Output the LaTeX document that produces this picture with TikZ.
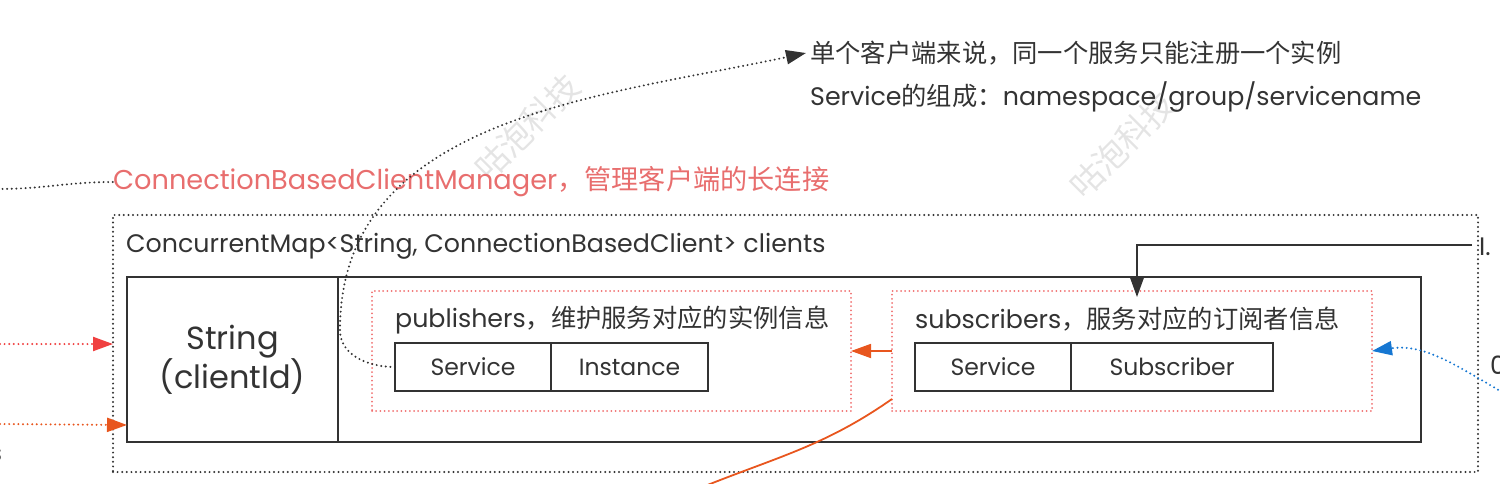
\documentclass[tikz,border=0pt]{standalone}
\usepackage{fontspec}
\setmainfont{Poppins}
\newfontfamily\cjk{Noto Sans CJK SC}
\usetikzlibrary{arrows.meta,positioning}
\definecolor{ink}{HTML}{333333}
\definecolor{mgrred}{HTML}{E86E6E}
\definecolor{boxred}{HTML}{F07070}
\definecolor{linered}{HTML}{F04040}
\definecolor{lineorange}{HTML}{E8561E}
\definecolor{lineblue}{HTML}{1677D2}
\definecolor{mark}{HTML}{E4E4E4}
\newcommand\cn[1]{{\cjk #1}}
\newcommand\fs[1]{\fontsize{#1}{#1}\selectfont}
\begin{document}
\begin{tikzpicture}[x=1pt, y=-1pt, >={Triangle[length=20pt,width=14pt]},
    cell/.style={draw=ink, line width=1.8pt, outer sep=0pt, inner sep=0pt,
        minimum height=48pt, text=ink, font=\fs{23.5}},
    frame/.style={draw=ink, line width=2pt, outer sep=0pt, inner sep=0pt},
    dotbox/.style={draw=ink, line width=2.2pt, dash pattern=on 0pt off 4.6pt,
        line cap=round, outer sep=0pt, inner sep=0pt},
    redbox/.style={draw=boxred, line width=2pt, dash pattern=on 0pt off 4.2pt,
        line cap=round, outer sep=0pt, inner sep=0pt},
    dotline/.style={line width=2.2pt, dash pattern=on 0pt off 4.6pt, line cap=round},
    lbl/.style={anchor=west, text=ink, inner sep=0pt, font=\fs{25.3}}]
\useasboundingbox (0,0) rectangle (1500,484);

% watermark
\node[text=mark, rotate=45, font=\fs{33}\cjk] (wm1) at (527,127) {咕泡科技};
\node[text=mark, rotate=45, font=\fs{33}\cjk] (wm2) at (1122,145) {咕泡科技};

% notes
\node[lbl] (note1) at (810,53) {\cn{单个客户端来说，同一个服务只能注册一个实例}};
\node[lbl] (note2) at (810,97) {Service\cn{的组成：}namespace/group/servicename};

% manager
\node[anchor=west, inner sep=0pt, text=mgrred, font=\fs{27.2}] (mgr) at (113,182)
    {ConnectionBasedClientManager\cn{，管理客户端的长连接}};
\node[dotbox, anchor=north west, minimum width=1365pt, minimum height=257pt]
    (map) at (113,215) {};
\node[lbl] (maplbl) at (126,246) {ConcurrentMap<String, ConnectionBasedClient> clients};

% one entry
\node[frame, anchor=north west, minimum width=211pt, minimum height=165pt,
    align=center, text=ink, font=\fontsize{32}{39}\selectfont] (key) at (127,277)
    {String\\(clientId)};
\node[frame, minimum width=1083pt, minimum height=165pt, right=0pt of key] (val) {};

% publishers
\node[redbox, anchor=north west, minimum width=479pt, minimum height=120pt]
    (pub) at (372,291) {};
\node[lbl] (publbl) at (395,320) {publishers\cn{，维护服务对应的实例信息}};
\node[cell, anchor=north west, minimum width=156pt] (psvc) at (395,343) {Service};
\node[cell, minimum width=157pt, right=0pt of psvc] (pins) {Instance};

% subscribers
\node[redbox, anchor=north west, minimum width=480pt, minimum height=120pt]
    (sub) at (892,291) {};
\node[lbl] (sublbl) at (915,319) {subscribers\cn{，服务对应的订阅者信息}};
\node[cell, anchor=north west, minimum width=156pt] (ssvc) at (915,343) {Service};
\node[cell, minimum width=202pt, right=0pt of ssvc] (ssub) {Subscriber};

% cut texts at the edges
\node[lbl] (rt1) at (1479,247) {I.};
\node[lbl] (rt2) at (1490,365) {0};
\node[anchor=east, inner sep=0pt, text=ink, font=\fs{25}] (lt1) at (2.5,455) {s};

\coordinate (inM) at (-2,189);
\coordinate (inA) at (0,344);
\coordinate (inB) at (0,424);
\coordinate (inR) at (1472,245);
\coordinate (inC) at (1502,392);
\coordinate (outO) at (700,488);

\draw[dotline, ink] (inM) to[out=0,in=180] (mgr.west);
\draw[dotline, ink, ->] (psvc.west) to[out=180,in=270] (340,330)
    to[out=90,in=192] ([xshift=-4pt]note1.west);
\draw[dotline, linered, ->] (inA) -- (inA -| map.west);
\draw[dotline, lineorange, ->] (inB) -- ([yshift=-1pt]inB -| key.west);
\draw[ink, line width=1.8pt, ->] (inR) -| ([xshift=5pt, yshift=-6pt]sub.north);
\draw[dotline, lineblue, ->] (inC) to[out=150,in=8] (sub.east);
\draw[lineorange, line width=1.8pt, ->] (sub.west) -- (pub.east);
\draw[lineorange, line width=1.8pt] ([yshift=-48pt]sub.west) to[out=215,in=22] (outO);
\end{tikzpicture}
\end{document}
